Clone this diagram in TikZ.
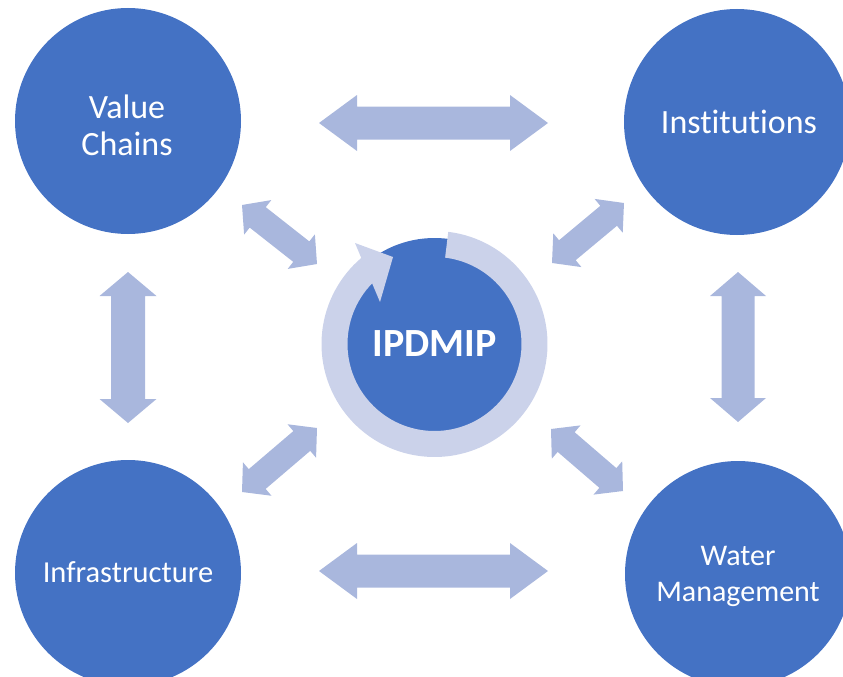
\documentclass[tikz,border=0pt]{standalone}
\usepackage{fontspec}
\setmainfont{Carlito}[Ligatures={NoCommon,NoContextual}]
\usetikzlibrary{calc}

\definecolor{hubblue}{HTML}{4472C4}
\definecolor{linkfill}{HTML}{A9B7DD}
\definecolor{ringfill}{HTML}{CBD2EA}

% Double-headed block arrow from #1 to #2:
% #3 head length, #4 head half-width, #5 shaft half-width
\newcommand\blockarrow[5]{%
  \fill[linkfill] (#1)
    -- ($(#1)!#3!(#2)!#4!90:(#2)$)
    -- ($(#1)!#3!(#2)!#5!90:(#2)$)
    -- ($(#2)!#3!(#1)!#5!-90:(#1)$)
    -- ($(#2)!#3!(#1)!#4!-90:(#1)$)
    -- (#2)
    -- ($(#2)!#3!(#1)!#4!90:(#1)$)
    -- ($(#2)!#3!(#1)!#5!90:(#1)$)
    -- ($(#1)!#3!(#2)!#5!-90:(#2)$)
    -- ($(#1)!#3!(#2)!#4!-90:(#2)$)
    -- cycle;}

\begin{document}
\begin{tikzpicture}[x=1pt,y=-1pt,
  hub/.style={circle, fill=hubblue, inner sep=0pt, minimum size=226pt},
  hubtext/.style={text=white, align=center, inner sep=0pt},
  core/.style={circle, fill=hubblue, inner sep=0pt, minimum size=212pt,
    text=white, font=\bfseries\fontsize{40}{48}\selectfont}]
\useasboundingbox (0,0) rectangle (843,677);
\clip (0,0) rectangle (843,677);

% four outer themes
\node[hub] (vc)  at (128,121) {};
\node[hub] (ins) at (737,122) {};
\node[hub] (inf) at (128,573) {};
\node[hub] (wm)  at (738,574) {};
\node[hubtext, font=\fontsize{34}{37}\selectfont] (vc-label)
  at ([shift={(-1,4)}]vc.center) {Value\\Chains};
\node[hubtext, font=\fontsize{34}{37}\selectfont] (ins-label)
  at ([shift={(2,0)}]ins.center) {Institutions};
\node[hubtext, font=\fontsize{30.5}{37}\selectfont] (inf-label)
  at ([shift={(0,-1)}]inf.center) {Infrastructure};
\node[hubtext, font=\fontsize{30}{36}\selectfont] (wm-label)
  at ([shift={(0,2)}]wm.center) {Water\\Management};

% arrow end points
\coordinate (topL) at (319,123);  \coordinate (topR) at (548,123);
\coordinate (botL) at (319,571);  \coordinate (botR) at (548,571);
\coordinate (lefT) at (128,272);  \coordinate (lefB) at (128,423);
\coordinate (rigT) at (738,272);  \coordinate (rigB) at (738,422);
\coordinate (tlA) at (242,205);   \coordinate (tlB) at (317,264);
\coordinate (trA) at (552,263);   \coordinate (trB) at (624,203);
\coordinate (blA) at (242,492);   \coordinate (blB) at (317,428);
\coordinate (brA) at (551,429);   \coordinate (brB) at (623,491);

\blockarrow{topL}{topR}{38pt}{28pt}{16.5pt}
\blockarrow{botL}{botR}{38pt}{28pt}{16.5pt}
\blockarrow{lefT}{lefB}{24pt}{28.5pt}{17pt}
\blockarrow{rigT}{rigB}{24pt}{28pt}{16.5pt}
\blockarrow{tlA}{tlB}{20pt}{22pt}{13pt}
\blockarrow{trA}{trB}{20pt}{22pt}{13pt}
\blockarrow{blA}{blB}{20pt}{22pt}{13pt}
\blockarrow{brA}{brB}{20pt}{22pt}{13pt}

% central programme with its cycle ring and arrowhead
\coordinate (c) at (434.5,344);
\node[core] (ip) at (c) {IPDMIP};
\coordinate (headOut) at (355,243);
\coordinate (headTip) at (393,257);
\coordinate (headIn)  at (380,302);
\fill[ringfill] ($(c)+(-83:113)$) arc[start angle=-83, end angle=229.6, radius=113]
  -- (headOut) -- (headTip) -- (headIn)
  -- ($(c)+(224.2:87)$) arc[start angle=224.2, end angle=-83, radius=87] -- cycle;
\end{tikzpicture}
\end{document}
